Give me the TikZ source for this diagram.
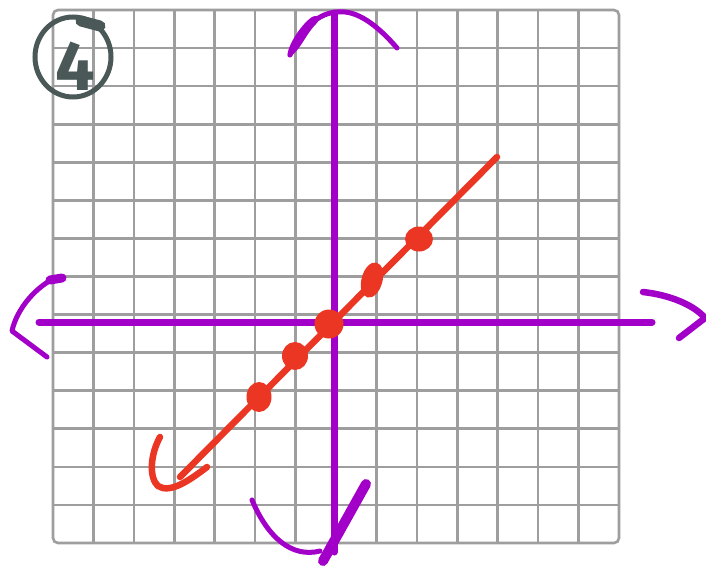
\documentclass[tikz,border=0pt]{standalone}
\usepackage{fontspec}
\newfontfamily\handfont{Fira Sans}
\definecolor{gridgray}{RGB}{158,158,158}
\definecolor{axispurple}{RGB}{162,0,200}
\definecolor{linered}{RGB}{236,54,36}
\definecolor{inkgray}{RGB}{74,88,88}
\tikzset{
  gridline/.style={draw=gridgray, line width=2.6pt},
  axisline/.style={draw=axispurple, line width=7pt, line cap=round},
  axishead/.style={draw=axispurple, line width=5pt, line cap=round, line join=round},
  redline/.style={draw=linered, line width=6.5pt, line cap=round, line join=round},
  reddot/.style={fill=linered},
  inkline/.style={draw=inkgray, line width=5pt, line cap=round}
}
\begin{document}
\begin{tikzpicture}[x=1pt,y=-1pt]
\useasboundingbox (0,0) rectangle (706,568);
\fill[white] (0,0) rectangle (706,568);
% grid
\foreach \i in {1,...,13} {
  \draw[gridline] ({53+\i*40.43},10) -- ({53+\i*40.43},543);
  \draw[gridline] (53,{10+\i*38.07}) -- (619,{10+\i*38.07});
}
\draw[gridline, rounded corners=5pt] (53,10) rectangle (619,543);
% axes
\coordinate (xl) at (39,322);
\coordinate (xr) at (652,322);
\coordinate (yt) at (334,13);
\coordinate (yb) at (334,552);
\draw[axisline] (xl) -- (xr);
\draw[axisline] (yt) -- (yb);
% top arrowhead
\draw[axishead] (290,55) .. controls (305,25) and (320,10) .. (345,12) .. controls (365,14) and (385,34) .. (397,48);
\fill[axispurple] (288,57) .. controls (285,50) and (300,25) .. (312,17) .. controls (318,14) and (322,18) .. (316,24) .. controls (305,35) and (298,55) .. cycle;
% bottom arrowhead
\draw[axishead] (252,500) .. controls (268,538) and (292,558) .. (320,551);
\draw[draw=axispurple, line width=10pt, line cap=round] (323,561) -- (366,484);
% left arrowhead
\draw[axishead] (63,278) -- (53,279) .. controls (32,290) and (16,312) .. (12,331) -- (47,357);
\draw[draw=axispurple, line width=9pt, line cap=round] (62,278) -- (50,280);
% right arrowhead
\draw[axishead, line width=6.5pt] (643,292) .. controls (670,295) and (694,305) .. (705,318) -- (679,338);
% red line
\coordinate (ra) at (497,157);
\coordinate (rb) at (180,477);
\draw[redline] (ra) -- (rb);
\draw[redline] (160,437) .. controls (150,455) and (149,478) .. (158,486) .. controls (170,494) and (190,480) .. (207,467);
% dots
\fill[reddot] (419,239) ellipse [x radius=14, y radius=12.5];
\fill[reddot, rotate around={-15:(372,280)}] (372,280) ellipse [x radius=10.5, y radius=18];
\fill[reddot] (329,324) ellipse [x radius=14.5, y radius=14.5];
\fill[reddot] (295,356) ellipse [x radius=13, y radius=14];
\fill[reddot] (259,397) ellipse [x radius=12.5, y radius=15];
% circled 4
\draw[inkline] (73,57) ellipse [x radius=38, y radius=40];
\draw[draw=inkgray, line width=11pt, line cap=round] (81,21) -- (100,26);
\node[anchor=base, text=inkgray, inner sep=0pt, font=\handfont\bfseries\fontsize{70}{70}\selectfont] (four) at (75,90) {4};
\end{tikzpicture}
\end{document}
